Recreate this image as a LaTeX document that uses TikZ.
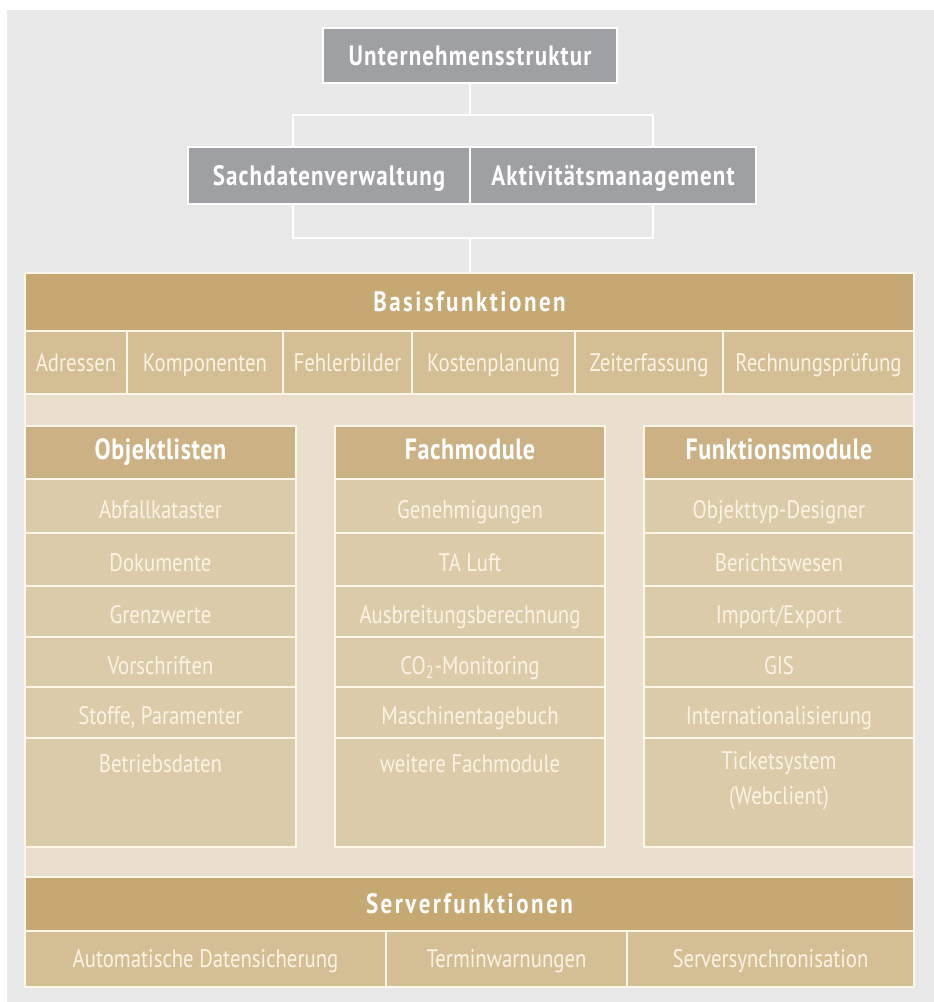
\documentclass[tikz,border=0pt]{standalone}
\usepackage{fontspec}
\setmainfont{PT Sans}[FakeStretch=0.82]
\usetikzlibrary{positioning}

\definecolor{bggrey}{HTML}{E8E8E9}
\definecolor{boxgrey}{HTML}{9EA0A3}
\definecolor{golddark}{HTML}{C6A873}
\definecolor{goldhead}{HTML}{CBB183}
\definecolor{goldmid}{HTML}{D4BF94}
\definecolor{goldlight}{HTML}{DCCBA8}
\definecolor{goldpale}{HTML}{E9DFCC}
\definecolor{cream}{HTML}{FFF8EA}
\definecolor{textcream}{HTML}{FBF4E6}

\begin{document}
\begin{tikzpicture}[x=0.75pt,y=-0.75pt,
  wh/.style 2 args={minimum width=(#1)*0.75pt,minimum height=(#2)*0.75pt},
  cell/.style={draw=cream,line width=1.5pt,inner sep=0pt,outer sep=0pt,anchor=north west,
    text height=14pt,text depth=1pt,text=textcream,font=\fontsize{19}{26}\selectfont},
  rowcell/.style={cell,fill=goldlight,text height=18pt,text depth=0pt},
  topbox/.style={cell,fill=boxgrey,draw=white,text=white,text height=16pt,
    font=\fontsize{21}{24}\selectfont\bfseries\addfontfeatures{LetterSpace=4}},
  headbox/.style={cell,text=white,text height=14pt,text depth=3pt,
    font=\fontsize{22}{24}\selectfont\bfseries\addfontfeatures{LetterSpace=2}},
  bandbox/.style={cell,text=white,text height=15pt,text depth=1pt,
    font=\fontsize{21}{24}\selectfont\bfseries\addfontfeatures{LetterSpace=9}},
  itemtext/.style={text=textcream,font=\fontsize{19}{26}\selectfont,align=center,inner sep=0pt},
  wire/.style={draw=white,line width=1.5pt}]

  \useasboundingbox (0,0) rectangle (934,1002);
  \fill[bggrey] (7,10) rectangle (934,1002);

  % company structure
  \node[topbox,wh={294}{55}] (uns) at (323,28) {Unternehmensstruktur};
  \node[topbox,wh={282}{57}] (sach) at (188,147) {Sachdatenverwaltung};
  \node[topbox,wh={286}{57}] (akt) at (470,147) {Aktivitätsmanagement};

  \coordinate (ta) at (293,115);
  \coordinate (tb) at (653,115);
  \coordinate (ba) at (293,238);
  \coordinate (bb) at (653,238);

  % base block
  \node[cell,fill=goldpale,wh={889}{714}] (basis) at (25,273) {};
  \node[bandbox,fill=golddark,wh={889}{58}] (bhead) at (25,273) {Basisfunktionen};
  \foreach \t/\xa/\xb [count=\i] in {Adressen/25/127, Komponenten/127/283, Fehlerbilder/283/412,
      Kostenplanung/412/575, Zeiterfassung/575/723, Rechnungsprüfung/723/914}
    \node[cell,fill=goldmid,wh={\xb-\xa}{63}] (bf\i) at (\xa,331) {\t};

  \draw[wire] (uns.south) -- (uns.south |- ta);
  \draw[wire] (sach.north -| ta) -- (ta) -- (tb) -- (akt.north -| tb);
  \draw[wire] (sach.south -| ba) -- (ba) -- (bb) -- (akt.south -| bb);
  \draw[wire] (uns.south |- ba) -- (uns.south |- bhead.north);

  % object lists
  \node[headbox,fill=goldhead,wh={271}{53}] (obj) at (25,426) {Objektlisten};
  \foreach \t/\ya/\h [count=\i] in {Abfallkataster/479/54, Dokumente/533/53, Grenzwerte/586/51,
      Vorschriften/637/50, {Stoffe, Paramenter}/687/51}
    \node[rowcell,wh={271}{\h}] (obj\i) at (25,\ya) {\t};
  \node[rowcell,wh={271}{109}] (obj6) at (25,738) {};
  \node[itemtext] (obj6t) at ([yshift=-19pt]obj6.north) {Betriebsdaten};

  % special modules
  \node[headbox,fill=goldhead,wh={270}{53}] (fach) at (335,426) {Fachmodule};
  \foreach \t/\ya/\h [count=\i] in {Genehmigungen/479/54, TA Luft/533/53, Ausbreitungsberechnung/586/51,
      {CO\textsubscript{2}-Monitoring}/637/50, Maschinentagebuch/687/51}
    \node[rowcell,wh={270}{\h}] (fach\i) at (335,\ya) {\t};
  \node[rowcell,wh={270}{109}] (fach6) at (335,738) {};
  \node[itemtext] (fach6t) at ([yshift=-19pt]fach6.north) {weitere Fachmodule};

  % function modules
  \node[headbox,fill=goldhead,wh={270}{53}] (funk) at (644,426) {Funktionsmodule};
  \foreach \t/\ya/\h [count=\i] in {Objekttyp-Designer/479/54, Berichtswesen/533/53, {Import/Export}/586/51,
      GIS/637/50, Internationalisierung/687/51}
    \node[rowcell,wh={270}{\h}] (funk\i) at (644,\ya) {\t};
  \node[rowcell,wh={270}{109}] (funk6) at (644,738) {};
  \node[itemtext] (funk6t) at ([yshift=-32pt]funk6.north) {Ticketsystem\\(Webclient)};

  % server functions
  \node[bandbox,fill=golddark,wh={889}{54}] (shead) at (25,877) {Serverfunktionen};
  \foreach \t/\xa/\xb [count=\i] in {Automatische Datensicherung/25/386, Terminwarnungen/386/627,
      Serversynchronisation/627/914}
    \node[cell,fill=goldmid,wh={\xb-\xa}{56}] (sf\i) at (\xa,931) {\t};
\end{tikzpicture}
\end{document}
